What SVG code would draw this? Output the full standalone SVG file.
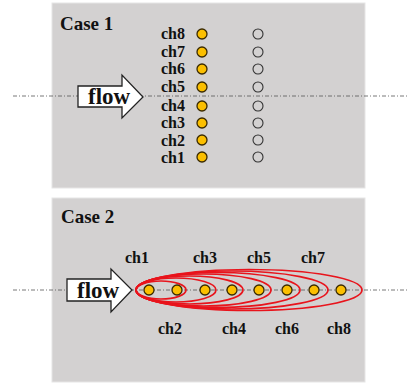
<svg xmlns="http://www.w3.org/2000/svg" width="409" height="383" viewBox="0 0 409 383">
<style>
.panel{fill:#d3d1d1;stroke:#e6e5e5;stroke-width:1}
.t{font-family:"Liberation Serif",serif;font-weight:bold;fill:#111}
.lbl{font-size:16px}
.case{font-size:19px}
.flow{font-size:23px}
.dash{stroke:#555;stroke-width:0.8;stroke-dasharray:4 2 1 2;fill:none}
.dot{fill:#fbbf00;stroke:#3a2a00;stroke-width:1.3}
.hol{fill:none;stroke:#333;stroke-width:1.1}
.arrow{fill:#fff;stroke:#222;stroke-width:1.3}
.ell{fill:none;stroke:#e8141c;stroke-width:1.7}
</style>
<rect width="409" height="383" fill="#fff"/>
<g id="panel1">
<rect class="panel" x="52" y="3" width="313" height="185"/>
<text class="t case" x="60" y="30">Case 1</text>
</g>
<g id="panel2">
<rect class="panel" x="52" y="198" width="313" height="184"/>
<text class="t case" x="61" y="223">Case 2</text>
</g>
<g id="connectors">
<line class="dash" x1="13" y1="96" x2="409" y2="96"/>
<line class="dash" x1="13" y1="290" x2="409" y2="290"/>
</g>
<g id="flow1">
<path class="arrow" d="M78,86 H122 V75 L143,97 L122,118 V107 H78 Z"/>
<text class="t flow" x="88" y="104">flow</text>
</g>
<g id="case1-channels">
<g class="t lbl" text-anchor="end">
<text x="185" y="39">ch8</text>
<text x="185" y="57">ch7</text>
<text x="185" y="74">ch6</text>
<text x="185" y="92">ch5</text>
<text x="185" y="111">ch4</text>
<text x="185" y="128">ch3</text>
<text x="185" y="146">ch2</text>
<text x="185" y="163">ch1</text>
</g>
<circle class="dot" cx="202" cy="34" r="5"/>
<circle class="dot" cx="202" cy="52" r="5"/>
<circle class="dot" cx="202" cy="69" r="5"/>
<circle class="dot" cx="202" cy="87" r="5"/>
<circle class="dot" cx="202" cy="106" r="5"/>
<circle class="dot" cx="202" cy="123" r="5"/>
<circle class="dot" cx="202" cy="140" r="5"/>
<circle class="dot" cx="202" cy="157" r="5"/>
<circle class="hol" cx="258" cy="34" r="5"/>
<circle class="hol" cx="258" cy="52" r="5"/>
<circle class="hol" cx="258" cy="69" r="5"/>
<circle class="hol" cx="258" cy="87" r="5"/>
<circle class="hol" cx="258" cy="106" r="5"/>
<circle class="hol" cx="258" cy="123" r="5"/>
<circle class="hol" cx="258" cy="140" r="5"/>
<circle class="hol" cx="258" cy="157" r="5"/>
</g>
<g id="flow2">
<path class="arrow" d="M67,279 H111 V269 L132,290 L111,312 V301 H67 Z"/>
<text class="t flow" x="77" y="298">flow</text>
</g>
<g id="case2-ellipses">
<ellipse class="ell" cx="161" cy="290" rx="25" ry="9"/>
<ellipse class="ell" cx="176" cy="290" rx="40" ry="12"/>
<ellipse class="ell" cx="189.5" cy="290" rx="53.5" ry="14"/>
<ellipse class="ell" cx="203.5" cy="290" rx="67.5" ry="16"/>
<ellipse class="ell" cx="218" cy="290" rx="82" ry="17.5"/>
<ellipse class="ell" cx="232" cy="290" rx="96" ry="19"/>
<ellipse class="ell" cx="249" cy="290" rx="113" ry="20.5"/>
</g>
<g id="case2-channels">
<circle class="dot" cx="149" cy="290" r="5"/>
<circle class="dot" cx="177" cy="290" r="5"/>
<circle class="dot" cx="205" cy="290" r="5"/>
<circle class="dot" cx="232" cy="290" r="5"/>
<circle class="dot" cx="259" cy="290" r="5"/>
<circle class="dot" cx="287" cy="290" r="5"/>
<circle class="dot" cx="314" cy="290" r="5"/>
<circle class="dot" cx="341" cy="290" r="5"/>
<g class="t lbl" text-anchor="middle">
<text x="137" y="263">ch1</text>
<text x="205" y="263">ch3</text>
<text x="259" y="263">ch5</text>
<text x="313" y="263">ch7</text>
<text x="170" y="334">ch2</text>
<text x="234" y="334">ch4</text>
<text x="287" y="334">ch6</text>
<text x="339" y="334">ch8</text>
</g>
</g>
</svg>
